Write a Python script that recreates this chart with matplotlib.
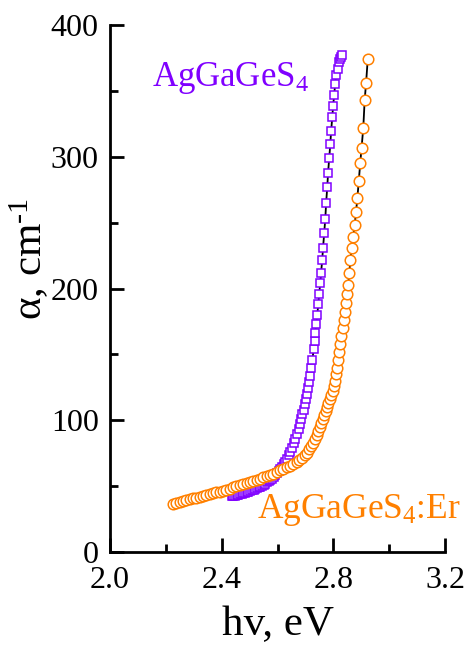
import matplotlib
matplotlib.use("Agg")
import matplotlib.pyplot as plt
from matplotlib.ticker import MultipleLocator

# ---- data ----
pure_hv = [2.436, 2.442, 2.448, 2.454, 2.460, 2.466, 2.472, 2.478, 2.484, 2.490,
           2.496, 2.502, 2.508, 2.514, 2.520, 2.526, 2.532, 2.538, 2.544, 2.550,
           2.556, 2.562, 2.568, 2.574, 2.580, 2.586, 2.592, 2.598, 2.604, 2.610,
           2.616, 2.622, 2.628, 2.634, 2.640, 2.646, 2.652, 2.658, 2.664, 2.670,
           2.676, 2.681, 2.685, 2.689, 2.693, 2.697, 2.701, 2.705, 2.709, 2.713,
           2.717, 2.721, 2.725, 2.729, 2.733, 2.735, 2.738, 2.742, 2.746, 2.749,
           2.753, 2.756, 2.760, 2.763, 2.767, 2.771, 2.774, 2.778, 2.781, 2.785,
           2.789, 2.792, 2.796, 2.799, 2.803, 2.806, 2.810, 2.815, 2.821, 2.825,
           2.828, 2.831]
pure_alpha = [42.5, 42.6, 42.8, 43.0, 43.3, 43.7, 44.1, 44.5, 45.0, 45.4,
              45.8, 46.3, 46.8, 47.3, 47.9, 48.5, 49.1, 49.7, 50.4, 51.2,
              52.0, 52.9, 53.8, 54.8, 55.8, 57.0, 58.3, 59.7, 61.2, 62.8,
              64.6, 66.5, 68.6, 70.9, 73.4, 76.2, 79.2, 82.4, 85.9, 89.6,
              93.6, 97.5, 101, 104.5, 108, 112, 116, 120, 124.5, 129,
              134, 139.5, 145.5, 154, 160, 166, 173, 180, 188, 196,
              204, 212, 222, 231, 242, 253, 265, 277, 288, 299,
              310, 320, 330, 339, 347, 355, 362, 367, 372, 374,
              376, 377]

er_hv = [2.225, 2.237, 2.249, 2.261, 2.273, 2.285, 2.297, 2.309, 2.321, 2.333,
         2.345, 2.357, 2.369, 2.381, 2.393, 2.405, 2.417, 2.429, 2.441, 2.453,
         2.465, 2.477, 2.489, 2.501, 2.513, 2.525, 2.537, 2.549, 2.561, 2.573,
         2.585, 2.597, 2.609, 2.621, 2.633, 2.645, 2.657, 2.668, 2.678, 2.688,
         2.697, 2.705, 2.713, 2.720, 2.727, 2.734, 2.740, 2.746, 2.752, 2.757,
         2.762, 2.767, 2.772, 2.777, 2.782, 2.787, 2.792, 2.797, 2.801, 2.805,
         2.809, 2.813, 2.817, 2.821, 2.825, 2.829, 2.833, 2.837, 2.841, 2.845,
         2.849, 2.853, 2.857, 2.861, 2.866, 2.871, 2.876, 2.881, 2.886, 2.891,
         2.896, 2.901, 2.907, 2.912, 2.917, 2.923]
er_alpha = [36.5, 37.2, 37.9, 38.6, 39.3, 40.0, 40.7, 41.3, 41.9, 42.5,
            43.1, 43.8, 44.5, 45.2, 45.9, 46.6, 47.4, 48.2, 49.0, 49.8,
            50.6, 51.4, 52.2, 53.0, 53.9, 54.8, 55.7, 56.6, 57.6, 58.6,
            59.6, 60.8, 62.0, 63.2, 64.4, 65.6, 66.9, 68.3, 69.8, 71.5,
            73.5, 75.5, 78, 80.5, 83, 86, 89, 92, 95, 98,
            101, 104, 107, 110, 113, 116, 119, 122, 126, 130,
            135, 140, 146, 152, 158, 164, 170, 176, 182, 189,
            196, 203, 212, 222, 231, 239, 248, 258, 269, 282,
            295, 307, 322, 343, 356, 374]

label_pure = r'AgGaGeS$_4$'
label_er = r'AgGaGeS$_4$:Er'
xticks = [2.0, 2.4, 2.8, 3.2]
yticks = [0, 100, 200, 300, 400]

PURPLE = '#8000FF'
ORANGE = '#FF8000'

plt.rcParams['font.family'] = ['Liberation Serif', 'DejaVu Serif']
plt.rcParams['mathtext.fontset'] = 'custom'
plt.rcParams['mathtext.rm'] = 'Liberation Serif'
plt.rcParams['mathtext.it'] = 'Liberation Serif:italic'

fig = plt.figure(figsize=(4.7, 6.46), dpi=100)
ax = fig.add_axes([0.234, 0.1455, 0.713, 0.8155])

ax.plot(pure_hv, pure_alpha, color='black', lw=1.3, zorder=2)
ax.plot(pure_hv, pure_alpha, ls='none', marker='s', ms=6.2, mfc='white',
        mec=PURPLE, mew=1.1, zorder=3)
ax.plot(er_hv, er_alpha, color='black', lw=1.3, zorder=2)
ax.plot(er_hv, er_alpha, ls='none', marker='o', ms=7.6, mfc='white',
        mec=ORANGE, mew=1.1, zorder=3)

ax.set_xlim(2.0, 3.2)
ax.set_ylim(0, 400)
ax.set_xticks(xticks)
ax.set_xticklabels([f'{v:.1f}' for v in xticks])
ax.set_yticks(yticks)
ax.xaxis.set_minor_locator(MultipleLocator(0.2))
ax.yaxis.set_minor_locator(MultipleLocator(50))

for s in ['top', 'right']:
    ax.spines[s].set_visible(False)
for s in ['left', 'bottom']:
    ax.spines[s].set_linewidth(2.0)

ax.tick_params(which='major', direction='in', length=10, width=2.0,
               labelsize=23)
ax.tick_params(which='minor', direction='in', length=5.5, width=2.0)
ax.tick_params(axis='x', which='major', pad=10)
ax.tick_params(axis='y', which='major', pad=8)

ax.set_xlabel('hv, eV', fontsize=31, labelpad=8)
ax.set_ylabel(r'α, cm$^{\text{-}1}$', fontsize=31, labelpad=2)
ax.yaxis.set_label_coords(-0.175, 0.556)

ax.text(2.15, 354, label_pure, color=PURPLE, fontsize=25, ha='left', va='baseline')
ax.text(2.527, 26, label_er, color=ORANGE, fontsize=25.5, ha='left', va='baseline')

fig.savefig('out.png', dpi=100)
